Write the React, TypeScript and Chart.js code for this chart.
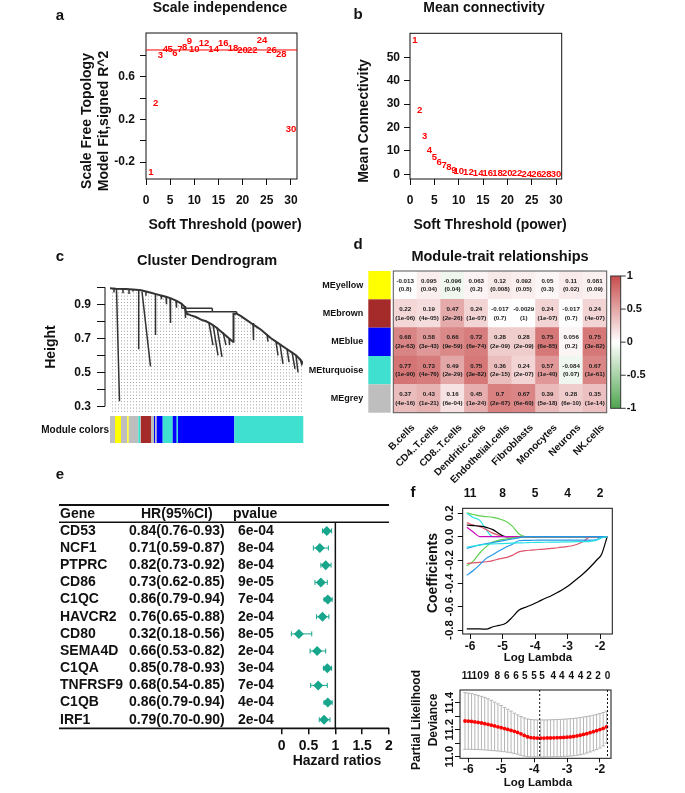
import React, { useEffect, useRef } from 'react';
import { Chart, registerables } from 'chart.js';

Chart.register(...registerables);

const PAGE_W = 685;
const PAGE_H = 793;
const FONT = '"Liberation Sans", Arial, Helvetica, sans-serif';
Chart.defaults.font.family = FONT;
Chart.defaults.font.weight = 'bold';
Chart.defaults.color = '#111111';

// ---------------- a / b : soft threshold ----------------
const softPowers = [1, 2, 3, 4, 5, 6, 7, 8, 9, 10, 12, 14, 16, 18, 20, 22, 24, 26, 28, 30];
const scaleFitR2 = [-0.3, 0.35, 0.8, 0.857, 0.857, 0.82, 0.86, 0.875, 0.93, 0.857, 0.91, 0.857, 0.916, 0.866, 0.85, 0.85, 0.94, 0.845, 0.81, 0.11];
const meanConnectivity = [57.1, 27.5, 16.2, 10.1, 7.1, 5.0, 3.7, 2.8, 1.8, 1.4, 0.85, 0.6, 0.45, 0.35, 0.28, 0.22, 0.18, 0.15, 0.12, 0.1];
const r2Cutoff = 0.85;
const powerTicks = [0, 5, 10, 15, 20, 25, 30];
const r2TickValues = [-0.2, 0, 0.2, 0.4, 0.6, 0.8];
const r2TickLabels = ['-0.2', '', '0.2', '', '0.6', ''];
const connTickValues = [0, 10, 20, 30, 40, 50];

// ---------------- c : cluster dendrogram ----------------
// x in leaf-order units, y = merge height
const dendroProfileU = [-1, 5, 15, 25, 30, 35, 40, 45, 50, 55, 60, 65, 70, 73, 75.7, 80, 85, 90, 95, 100, 105, 110, 115, 119, 122, 122.5, 125.7, 130, 135, 140, 145, 150, 155, 160, 165, 170, 175, 180, 185, 190, 192];
const dendroProfileH = [0.994, 0.992, 0.99, 0.986, 0.982, 0.975, 0.968, 0.96, 0.952, 0.944, 0.935, 0.922, 0.905, 0.89, 0.845, 0.835, 0.825, 0.81, 0.8, 0.785, 0.765, 0.74, 0.715, 0.695, 0.68, 0.845, 0.845, 0.83, 0.81, 0.79, 0.77, 0.75, 0.725, 0.7, 0.68, 0.66, 0.64, 0.62, 0.6, 0.57, 0.55];
// branches: [uTop, hTop, uBottom, hBottom]
const dendroBranches = [
  [70.7, 0.905, 70.7, 0.876], [70.7, 0.876, 101.3, 0.876], [101.3, 0.876, 101.3, 0.856],
  [75.7, 0.856, 125.7, 0.856], [75.7, 0.856, 75.7, 0.845], [125.7, 0.856, 125.7, 0.845],
  [5.5, 0.99, 8.5, 0.33], [27.7, 0.985, 27.7, 0.635], [31, 0.975, 39.5, 0.535],
  [44.5, 0.962, 44.5, 0.72], [59, 0.935, 59.5, 0.79], [74, 0.89, 74.5, 0.82],
  [98, 0.79, 102, 0.66], [102, 0.78, 107, 0.6], [106, 0.765, 111, 0.59], [112, 0.735, 115, 0.66], [118, 0.7, 118.5, 0.66],
  [142, 0.79, 142.5, 0.69], [156, 0.725, 157, 0.68], [165, 0.68, 167, 0.6], [169, 0.665, 172, 0.55],
  [176, 0.64, 178, 0.56], [181, 0.62, 184, 0.52], [185, 0.6, 187, 0.5], [189, 0.58, 191, 0.54],
  [3, 0.993, 3, 0.97], [12, 0.99, 12, 0.965], [18, 0.989, 18, 0.96], [22, 0.987, 22, 0.975],
  [35, 0.975, 35, 0.95], [50, 0.952, 50.5, 0.93], [55, 0.944, 55.5, 0.9], [65, 0.922, 65.5, 0.88],
];
const dendroHeightTicks = [0.3, 0.4, 0.5, 0.6, 0.7, 0.8, 0.9, 1.0];
const dendroHeightLabels = ['0.3', '', '0.5', '', '0.7', '', '0.9', ''];
const moduleBarEdges = [-1, 4, 10, 16.3, 17.7, 27.3, 29, 30, 40, 43, 44.3, 45.7, 51.7, 61.7, 65.7, 67, 123.3, 192.3];
const moduleBarColors = ['grey', 'yellow', 'grey', 'yellow', 'grey', 'turquoise', 'grey', 'brown', 'grey', 'blue', 'grey', 'blue', 'turquoise', 'blue', 'turquoise', 'blue', 'turquoise'];
const moduleColorHex: Record<string, string> = { grey: '#bebebe', yellow: '#ffff00', brown: '#a52a2a', blue: '#0000ff', turquoise: '#40e0d0' };

// ---------------- d : module-trait heatmap ----------------
const moduleNames = ['MEyellow', 'MEbrown', 'MEblue', 'MEturquoise', 'MEgrey'];
const moduleSwatches = ['yellow', 'brown', 'blue', 'turquoise', 'grey'];
const traitNames = ['B.cells', 'CD4..T.cells', 'CD8..T.cells', 'Dendritic.cells', 'Endothelial.cells', 'Fibroblasts', 'Monocytes', 'Neurons', 'NK.cells'];
const corYellow = [-0.013, 0.095, -0.096, 0.063, 0.12, 0.092, 0.05, 0.11, 0.081];
const pYellow = ['0.8', '0.04', '0.04', '0.2', '0.008', '0.05', '0.3', '0.02', '0.09'];
const corBrown = [0.22, 0.19, 0.47, 0.24, -0.017, -0.0029, 0.24, -0.017, 0.24];
const pBrown = ['1e-06', '4e-05', '2e-26', '1e-07', '0.7', '1', '1e-07', '0.7', '4e-07'];
const corBlue = [0.68, 0.58, 0.66, 0.72, 0.28, 0.28, 0.75, 0.056, 0.75];
const pBlue = ['2e-63', '3e-43', '9e-59', '6e-74', '2e-09', '2e-09', '6e-85', '0.2', '3e-82'];
const corTurquoise = [0.77, 0.73, 0.49, 0.75, 0.36, 0.24, 0.57, -0.084, 0.67];
const pTurquoise = ['1e-90', '4e-76', '2e-29', '3e-82', '2e-15', '2e-07', '1e-40', '0.07', '1e-61'];
const corGrey = [0.37, 0.43, 0.16, 0.45, 0.7, 0.67, 0.39, 0.28, 0.35];
const pGrey = ['4e-16', '1e-21', '6e-04', '1e-24', '2e-67', '6e-60', '5e-18', '6e-10', '1e-14'];
const heatCor = [corYellow, corBrown, corBlue, corTurquoise, corGrey];
const heatP = [pYellow, pBrown, pBlue, pTurquoise, pGrey];
const colorbarTicks = [1, 0.5, 0, -0.5, -1];

// ---------------- e : forest plot ----------------
const genes = ['CD53', 'NCF1', 'PTPRC', 'CD86', 'C1QC', 'HAVCR2', 'CD80', 'SEMA4D', 'C1QA', 'TNFRSF9', 'C1QB', 'IRF1'];
const hazardRatio = [0.84, 0.71, 0.82, 0.73, 0.86, 0.76, 0.32, 0.66, 0.85, 0.68, 0.86, 0.79];
const hrLower = [0.76, 0.59, 0.73, 0.62, 0.79, 0.65, 0.18, 0.53, 0.78, 0.54, 0.79, 0.7];
const hrUpper = [0.93, 0.87, 0.92, 0.85, 0.94, 0.88, 0.56, 0.82, 0.93, 0.85, 0.94, 0.9];
const hrPvalue = ['6e-04', '8e-04', '8e-04', '9e-05', '7e-04', '2e-04', '8e-05', '2e-04', '3e-04', '7e-04', '4e-04', '2e-04'];
const hrTicks = [0, 0.5, 1, 1.5, 2];

// ---------------- f : LASSO ----------------
const lassoLogLambda = [-6.1, -5.9, -5.7, -5.5, -5.3, -5.1, -4.9, -4.7, -4.5, -4.3, -4.1, -3.9, -3.7, -3.5, -3.3, -3.1, -2.9, -2.7, -2.5, -2.3, -2.1, -1.95, -1.78];
const coefBlackMain = [-0.79, -0.79, -0.79, -0.793, -0.772, -0.76, -0.742, -0.69, -0.63, -0.606, -0.583, -0.557, -0.53, -0.506, -0.477, -0.445, -0.405, -0.36, -0.314, -0.26, -0.2, -0.15, 0];
const coefGreenA = [0.205, 0.19, 0.178, 0.172, 0.165, 0.153, 0.132, 0.09, 0.025, 0, 0, 0, 0, 0, 0, 0, 0, 0, 0, 0, 0, 0, 0];
const coefCyanA = [0.2, 0.165, 0.14, 0.06, 0, 0, 0, 0, 0, 0, 0, 0, 0, 0, 0, 0, 0, 0, 0, 0, 0, 0, 0];
const coefRedA = [0.12, 0.1, 0.085, 0.06, 0.03, 0.01, 0, 0, 0, 0, 0, 0, 0, 0, 0, 0, 0, 0, 0, 0, 0, 0, 0];
const coefBlackB = [0.1, 0.095, 0.09, 0.08, 0.06, 0.025, 0, 0, 0, 0, 0, 0, 0, 0, 0, 0, 0, 0, 0, 0, 0, 0, 0];
const coefMagenta = [0.08, 0.04, 0, 0, 0, 0, 0, 0, 0, 0, 0, 0, 0, 0, 0, 0, 0, 0, 0, 0, 0, 0, 0];
const coefCyanB = [-0.09, -0.08, -0.072, -0.065, -0.062, -0.06, -0.058, -0.056, -0.054, -0.052, -0.05, -0.049, -0.048, -0.047, -0.046, -0.045, -0.044, -0.043, -0.042, -0.04, -0.03, -0.01, 0];
const coefBlueA = [-0.1, -0.085, -0.07, -0.06, -0.05, -0.04, -0.03, -0.02, -0.01, 0, 0, 0, 0, 0, 0, 0, 0, 0, 0, 0, 0, 0, 0];
const coefBlueB = [-0.33, -0.29, -0.24, -0.186, -0.155, -0.12, -0.09, -0.065, -0.035, -0.032, -0.031, -0.03, -0.03, -0.03, -0.03, -0.03, -0.03, -0.03, -0.03, -0.03, -0.025, 0, 0];
const coefGreenB = [-0.25, -0.21, -0.14, -0.085, -0.045, -0.03, -0.02, -0.012, -0.005, 0, 0, 0, 0, 0, 0, 0, 0, 0, 0, 0, 0, 0, 0];
const coefRedB = [-0.23, -0.225, -0.22, -0.215, -0.205, -0.19, -0.18, -0.16, -0.13, -0.12, -0.115, -0.11, -0.107, -0.1, -0.095, -0.087, -0.08, -0.065, -0.04, 0, 0, 0, 0];
const lassoXTicks = [-6, -5, -4, -3, -2];
const lassoTopDf = ['11', '8', '5', '4', '2'];
const lassoYTicks = [-0.8, -0.6, -0.4, -0.2, 0, 0.2];
const lassoYLabels = ['-0.8', '-0.6', '-0.4', '-0.2', '0.0', '0.2'];

const cvLogLambda = [-6.1, -6.0, -5.9, -5.8, -5.7, -5.6, -5.5, -5.4, -5.3, -5.2, -5.1, -5.0, -4.9, -4.8, -4.7, -4.6, -4.5, -4.4, -4.3, -4.2, -4.1, -4.0, -3.9, -3.8, -3.7, -3.6, -3.5, -3.4, -3.3, -3.2, -3.1, -3.0, -2.9, -2.8, -2.7, -2.6, -2.5, -2.4, -2.3, -2.2, -2.1, -2.0, -1.9, -1.8];
const cvMean = [11.265, 11.264, 11.262, 11.258, 11.254, 11.25, 11.245, 11.24, 11.234, 11.228, 11.222, 11.215, 11.209, 11.202, 11.195, 11.188, 11.18, 11.17, 11.158, 11.148, 11.142, 11.139, 11.138, 11.138, 11.138, 11.139, 11.139, 11.14, 11.141, 11.142, 11.143, 11.145, 11.147, 11.15, 11.154, 11.159, 11.165, 11.171, 11.178, 11.186, 11.193, 11.201, 11.21, 11.222];
const cvUpper = [11.475, 11.472, 11.468, 11.462, 11.455, 11.448, 11.44, 11.43, 11.418, 11.405, 11.392, 11.38, 11.366, 11.352, 11.338, 11.323, 11.31, 11.298, 11.288, 11.28, 11.276, 11.274, 11.273, 11.273, 11.273, 11.273, 11.274, 11.275, 11.276, 11.277, 11.278, 11.28, 11.282, 11.284, 11.287, 11.29, 11.294, 11.298, 11.303, 11.308, 11.314, 11.32, 11.328, 11.338];
const cvLower = [11.055, 11.055, 11.054, 11.054, 11.053, 11.052, 11.05, 11.048, 11.046, 11.044, 11.042, 11.04, 11.037, 11.033, 11.029, 11.024, 11.018, 11.01, 11.004, 11.0, 10.999, 10.999, 10.998, 10.998, 10.998, 10.999, 10.999, 11.0, 11.0, 11.001, 11.002, 11.003, 11.005, 11.007, 11.01, 11.014, 11.02, 11.027, 11.035, 11.044, 11.053, 11.064, 11.08, 11.1];
const cvTopX = [-6.04, -5.73, -5.45, -5.12, -4.83, -4.55, -4.28, -4.0, -3.76, -3.42, -3.16, -2.87, -2.59, -2.33, -2.06, -1.77];
const cvTopDf = ['11', '10', '9', '8', '6', '6', '5', '5', '5', '4', '4', '4', '4', '2', '2', '0'];
const cvLambdaMin = -3.83;
const cvLambda1se = -1.77;
const cvYTicks = [11.0, 11.1, 11.2, 11.3, 11.4];
const cvYLabels = ['11.0', '', '11.2', '', '11.4'];

// ---------------- helpers ----------------
type Txt = { t: string; x: number; y: number; size: number; align?: CanvasTextAlign; rot?: number; color?: string; weight?: string };

function drawTexts(ctx: CanvasRenderingContext2D, items: Txt[]) {
  for (const it of items) {
    ctx.save();
    ctx.font = `${it.weight ?? 'bold'} ${it.size}px ${FONT}`;
    ctx.fillStyle = it.color ?? '#111111';
    ctx.textAlign = it.align ?? 'center';
    ctx.textBaseline = 'middle';
    ctx.translate(it.x, it.y);
    if (it.rot) ctx.rotate(it.rot);
    ctx.fillText(it.t, 0, 0);
    ctx.restore();
  }
}

function seg(ctx: CanvasRenderingContext2D, x1: number, y1: number, x2: number, y2: number, color = '#111111', w = 1, dash: number[] = []) {
  ctx.save();
  ctx.strokeStyle = color;
  ctx.lineWidth = w;
  ctx.setLineDash(dash);
  ctx.beginPath();
  ctx.moveTo(x1, y1);
  ctx.lineTo(x2, y2);
  ctx.stroke();
  ctx.restore();
}

function box(ctx: CanvasRenderingContext2D, ca: any, color = '#111111', w = 1) {
  ctx.save();
  ctx.strokeStyle = color;
  ctx.lineWidth = w;
  ctx.strokeRect(ca.left, ca.top, ca.right - ca.left, ca.bottom - ca.top);
  ctx.restore();
}

const zeroPad = (s: any) => { s.paddingLeft = 0; s.paddingRight = 0; s.paddingTop = 0; s.paddingBottom = 0; };
const fixW = (w: number) => (s: any) => { s.width = w; zeroPad(s); };
const fixH = (h: number) => (s: any) => { s.height = h; zeroPad(s); };
const setTicks = (vals: number[]) => (s: any) => { s.ticks = vals.map((v) => ({ value: v })); };
const tickGrid = (len: number) => ({ display: true, drawOnChartArea: false, drawTicks: true, tickLength: len, color: '#111111', lineWidth: 1 });
const noGrid = { display: false, drawTicks: false };
const bf = (size: number) => ({ size, weight: 'bold' as const, family: FONT });

const baseOpts = () => ({
  responsive: false,
  maintainAspectRatio: false,
  animation: false,
  devicePixelRatio: 1,
  events: [] as string[],
  plugins: { legend: { display: false }, tooltip: { enabled: false }, title: { display: false } },
});

function corColor(v: number) {
  const t = Math.max(-1, Math.min(1, v));
  if (t >= 0) {
    const r = Math.round(255 - t * 55), g = Math.round(255 - t * 180);
    return `rgb(${r},${g},${g})`;
  }
  const a = -t;
  const r = Math.round(255 - a * 175), g = Math.round(255 - a * 90);
  return `rgb(${r},${g},${r})`;
}

// ---------------- chart configs ----------------
function cfgA(): any {
  return {
    type: 'scatter',
    data: { datasets: [{ data: softPowers.map((p, i) => ({ x: p, y: scaleFitR2[i] })), pointRadius: 0 }] },
    options: {
      ...baseOpts(),
      layout: { padding: { left: 0, top: 33, right: PAGE_W - 297, bottom: 0 } },
      scales: {
        x: {
          type: 'linear', min: 0, max: 31.26, afterBuildTicks: setTicks(powerTicks), afterFit: fixH(PAGE_H - 179),
          ticks: { font: bf(12), padding: 8, maxRotation: 0, autoSkip: false, callback: (v: number) => String(v) },
          grid: tickGrid(6), border: { display: false },
        },
        y: {
          type: 'linear', min: -0.358, max: 1.009, afterBuildTicks: setTicks(r2TickValues), afterFit: fixW(146),
          ticks: { font: bf(12), padding: 5, autoSkip: false, callback: (_v: number, i: number) => r2TickLabels[i] },
          grid: tickGrid(6), border: { display: false },
        },
      },
    },
    plugins: [{
      id: 'panelA',
      afterDatasetsDraw(chart: any) {
        const { ctx, chartArea: ca, scales: { x, y } } = chart;
        box(ctx, ca);
        const yy = y.getPixelForValue(r2Cutoff);
        seg(ctx, ca.left, yy, ca.right, yy, '#ff0000', 1);
        ctx.save();
        ctx.font = `bold 9.5px ${FONT}`;
        ctx.fillStyle = '#ff0000';
        ctx.textAlign = 'center';
        ctx.textBaseline = 'middle';
        softPowers.forEach((p, i) => ctx.fillText(String(p), x.getPixelForValue(p), y.getPixelForValue(scaleFitR2[i])));
        ctx.restore();
        drawTexts(ctx, [
          { t: 'a', x: 60, y: 16, size: 15 },
          { t: 'Scale independence', x: 220, y: 8, size: 14 },
          { t: 'Soft Threshold (power)', x: 225, y: 225, size: 14 },
          { t: 'Scale Free Topology', x: 87.5, y: 121, size: 14, rot: -Math.PI / 2 },
          { t: 'Model Fit,signed R^2', x: 104, y: 121, size: 14, rot: -Math.PI / 2 },
        ]);
      },
    }],
  };
}

function cfgB(): any {
  return {
    type: 'scatter',
    data: { datasets: [{ data: softPowers.map((p, i) => ({ x: p, y: meanConnectivity[i] })), pointRadius: 0 }] },
    options: {
      ...baseOpts(),
      layout: { padding: { left: 0, top: 33.3, right: PAGE_W - 561.7, bottom: 0 } },
      scales: {
        x: {
          type: 'linear', min: 0, max: 31.17, afterBuildTicks: setTicks(powerTicks), afterFit: fixH(PAGE_H - 179),
          ticks: { font: bf(12), padding: 8, maxRotation: 0, autoSkip: false, callback: (v: number) => String(v) },
          grid: tickGrid(6), border: { display: false },
        },
        y: {
          type: 'linear', min: -2, max: 60.26, afterBuildTicks: setTicks(connTickValues), afterFit: fixW(410),
          ticks: { font: bf(12), padding: 4, autoSkip: false, callback: (v: number) => String(v) },
          grid: tickGrid(6), border: { display: false },
        },
      },
    },
    plugins: [{
      id: 'panelB',
      afterDatasetsDraw(chart: any) {
        const { ctx, chartArea: ca, scales: { x, y } } = chart;
        box(ctx, ca);
        ctx.save();
        ctx.font = `bold 9.5px ${FONT}`;
        ctx.fillStyle = '#ff0000';
        ctx.textAlign = 'center';
        ctx.textBaseline = 'middle';
        softPowers.forEach((p, i) => ctx.fillText(String(p), x.getPixelForValue(p), y.getPixelForValue(meanConnectivity[i])));
        ctx.restore();
        drawTexts(ctx, [
          { t: 'b', x: 358, y: 15, size: 15 },
          { t: 'Mean connectivity', x: 484, y: 8, size: 14 },
          { t: 'Soft Threshold (power)', x: 490, y: 225, size: 14 },
          { t: 'Mean Connectivity', x: 364, y: 121, size: 14, rot: -Math.PI / 2 },
        ]);
      },
    }],
  };
}

function cfgC(): any {
  const branchPts: any[] = [];
  dendroBranches.forEach(([u1, h1, u2, h2]) => {
    branchPts.push({ x: u1, y: h1 }, { x: u2, y: h2 }, { x: u2, y: null });
  });
  return {
    type: 'line',
    data: {
      datasets: [
        { data: branchPts, borderColor: '#333333', borderWidth: 1.5, pointRadius: 0, spanGaps: false, fill: false, tension: 0 },
        {
          data: dendroProfileU.map((u, i) => ({ x: u, y: dendroProfileH[i] })),
          borderColor: '#333333', borderWidth: 2, pointRadius: 0, fill: 'end', backgroundColor: '#ffffff', tension: 0,
        },
      ],
    },
    options: {
      ...baseOpts(),
      layout: { padding: { left: 0, top: 286, right: PAGE_W - 303, bottom: 0 } },
      scales: {
        x: {
          type: 'linear', min: -6, max: 192,
          afterBuildTicks: (s: any) => { const t: any[] = []; for (let u = 1; u <= 190; u += 3) t.push({ value: u }); s.ticks = t; },
          afterFit: fixH(PAGE_H - 414),
          ticks: { display: false, autoSkip: false },
          grid: { display: true, drawOnChartArea: true, drawTicks: false, color: '#9c9c9c', lineWidth: 0.9 },
          border: { display: false, dash: [1, 2.2] },
        },
        y: {
          type: 'linear', min: 0.2547, max: 1.0076, afterBuildTicks: setTicks(dendroHeightTicks), afterFit: fixW(105),
          ticks: { font: bf(12), padding: 6, autoSkip: false, callback: (_v: number, i: number) => dendroHeightLabels[i] },
          grid: tickGrid(8), border: { display: false },
        },
      },
    },
    plugins: [{
      id: 'panelC',
      afterDraw(chart: any) {
        const { ctx, chartArea: ca, scales: { x, y } } = chart;
        seg(ctx, ca.left, y.getPixelForValue(1.0), ca.left, y.getPixelForValue(0.3), '#111111', 1);
        ctx.save();
        for (let i = 0; i < moduleBarColors.length; i++) {
          const x1 = x.getPixelForValue(moduleBarEdges[i]);
          const x2 = x.getPixelForValue(moduleBarEdges[i + 1]);
          ctx.fillStyle = moduleColorHex[moduleBarColors[i]];
          ctx.fillRect(x1, 416, x2 - x1, 27);
        }
        ctx.restore();
        drawTexts(ctx, [
          { t: 'c', x: 60, y: 257, size: 15 },
          { t: 'Cluster Dendrogram', x: 207, y: 261, size: 14.5 },
          { t: 'Height', x: 51, y: 347, size: 14, rot: -Math.PI / 2 },
          { t: 'Module colors', x: 109, y: 430, size: 10, align: 'right' },
        ]);
      },
    }],
  };
}

function cfgD(): any {
  const rowsBottomUp = [4, 3, 2, 1, 0];
  return {
    type: 'bar',
    data: {
      labels: traitNames,
      datasets: rowsBottomUp.map((r) => ({
        label: moduleNames[r],
        data: heatCor[r].map(() => 1),
        backgroundColor: heatCor[r].map(corColor),
        borderWidth: 0,
        barPercentage: 1,
        categoryPercentage: 1,
      })),
    },
    options: {
      ...baseOpts(),
      layout: { padding: { left: 0, top: 271, right: PAGE_W - 606.7, bottom: PAGE_H - 412.7 } },
      scales: {
        x: { type: 'category', stacked: true, display: false, grid: noGrid },
        y: {
          type: 'linear', stacked: true, min: 0, max: 5, afterBuildTicks: setTicks([0.5, 1.5, 2.5, 3.5, 4.5]), afterFit: fixW(393.3),
          ticks: { font: bf(9), padding: 30, autoSkip: false, callback: (_v: number, i: number) => moduleNames[moduleNames.length - 1 - i] },
          grid: noGrid, border: { display: false },
        },
      },
    },
    plugins: [{
      id: 'panelD',
      afterDatasetsDraw(chart: any) {
        const { ctx, chartArea: ca, scales: { x, y } } = chart;
        ctx.save();
        ctx.font = `bold 6.2px ${FONT}`;
        ctx.fillStyle = '#1a1a1a';
        ctx.textAlign = 'center';
        ctx.textBaseline = 'middle';
        rowsBottomUp.forEach((r, di) => {
          const meta = chart.getDatasetMeta(di);
          meta.data.forEach((el: any, j: number) => {
            const cy = (el.y + el.base) / 2;
            ctx.fillText(String(heatCor[r][j]), el.x, cy - 4.3);
            ctx.fillText(`(${heatP[r][j]})`, el.x, cy + 4.3);
          });
        });
        ctx.restore();
        box(ctx, ca, '#555555', 1);
        ctx.save();
        moduleSwatches.forEach((c, r) => {
          const yTop = y.getPixelForValue(5 - r);
          const yBot = y.getPixelForValue(4 - r);
          ctx.fillStyle = moduleColorHex[c];
          ctx.fillRect(368.3, yTop, 22.4, yBot - yTop);
        });
        ctx.restore();
        ctx.save();
        ctx.font = `bold 10px ${FONT}`;
        ctx.fillStyle = '#111111';
        ctx.textAlign = 'right';
        ctx.textBaseline = 'middle';
        traitNames.forEach((t, j) => {
          ctx.save();
          ctx.translate(x.getPixelForValue(j) + 8, 426);
          ctx.rotate(-Math.PI / 4);
          ctx.fillText(t, 0, 0);
          ctx.restore();
        });
        ctx.restore();
        const cbL = 610.7, cbW = 10, cbT = 276, cbB = 408.3;
        const cbY = (v: number) => cbT + (1 - v) / 2 * (cbB - cbT);
        ctx.save();
        const g = ctx.createLinearGradient(0, cbT, 0, cbB);
        g.addColorStop(0, corColor(1));
        g.addColorStop(0.5, corColor(0));
        g.addColorStop(1, corColor(-1));
        ctx.fillStyle = g;
        ctx.fillRect(cbL, cbT, cbW, cbB - cbT);
        ctx.restore();
        box(ctx, { left: cbL, top: cbT, right: cbL + cbW, bottom: cbB }, '#333333', 1);
        colorbarTicks.forEach((v) => {
          const yy = cbY(v);
          seg(ctx, cbL + cbW, yy, cbL + cbW + 5, yy, '#333333', 1);
        });
        drawTexts(ctx, colorbarTicks.map((v) => ({ t: String(v), x: cbL + cbW + 6, y: cbY(v), size: 11, align: 'left' as CanvasTextAlign })));
        drawTexts(ctx, [
          { t: 'd', x: 358, y: 245, size: 15 },
          { t: 'Module-trait relationships', x: 500, y: 257, size: 14.5 },
        ]);
      },
    }],
  };
}

function cfgE(): any {
  const teal = '#17a58c';
  return {
    type: 'scatter',
    data: {
      datasets: [{
        data: hazardRatio.map((h, i) => ({ x: h, y: i })),
        pointStyle: 'rectRot', pointRadius: 5, backgroundColor: teal, borderColor: teal, borderWidth: 0,
      }],
    },
    options: {
      ...baseOpts(),
      layout: { padding: { left: 281.7, top: 522.3, right: PAGE_W - 389, bottom: 0 } },
      scales: {
        x: {
          type: 'linear', min: 0, max: 2, afterBuildTicks: setTicks(hrTicks), afterFit: fixH(PAGE_H - 728.3),
          ticks: { font: bf(14), padding: 3, maxRotation: 0, autoSkip: false, callback: (v: number) => String(v) },
          grid: { ...tickGrid(6), lineWidth: 1.5 }, border: { display: false },
        },
        y: { type: 'linear', min: -0.5, max: 11.5, reverse: true, display: false },
      },
    },
    plugins: [{
      id: 'panelE',
      beforeDatasetsDraw(chart: any) {
        const { ctx, chartArea: ca, scales: { x, y } } = chart;
        const x1 = x.getPixelForValue(1);
        seg(ctx, x1, ca.top, x1, ca.bottom, '#111111', 1.5);
        hazardRatio.forEach((_h, i) => {
          const yy = y.getPixelForValue(i);
          const a = x.getPixelForValue(hrLower[i]);
          const b = x.getPixelForValue(hrUpper[i]);
          seg(ctx, a, yy, b, yy, teal, 1);
          seg(ctx, a, yy - 2.5, a, yy + 2.5, teal, 1);
          seg(ctx, b, yy - 2.5, b, yy + 2.5, teal, 1);
        });
      },
      afterDatasetsDraw(chart: any) {
        const { ctx, chartArea: ca, scales: { y } } = chart;
        const L = 59;
        seg(ctx, L, 505, ca.right, 505, '#111111', 1.8);
        seg(ctx, L, ca.top, ca.right, ca.top, '#111111', 1.5);
        seg(ctx, L, ca.bottom, ca.right, ca.bottom, '#111111', 1.8);
        const items: Txt[] = [
          { t: 'Gene', x: 60, y: 514, size: 14, align: 'left' },
          { t: 'HR(95%CI)', x: 141, y: 514, size: 14, align: 'left' },
          { t: 'pvalue', x: 233, y: 514, size: 14, align: 'left' },
          { t: 'e', x: 60, y: 475, size: 15 },
          { t: 'Hazard ratios', x: 337, y: 761, size: 14 },
        ];
        genes.forEach((g, i) => {
          const yy = y.getPixelForValue(i);
          items.push({ t: g, x: 60, y: yy, size: 14, align: 'left' });
          items.push({ t: `${hazardRatio[i].toFixed(2)}(${hrLower[i].toFixed(2)}-${hrUpper[i].toFixed(2)})`, x: 129, y: yy, size: 14, align: 'left' });
          items.push({ t: hrPvalue[i], x: 238, y: yy, size: 14, align: 'left' });
        });
        drawTexts(ctx, items);
      },
    }],
  };
}

function cfgF1(): any {
  const series = [
    { c: coefCyanB, col: '#28E2E5' },
    { c: coefBlueB, col: '#2297E6' },
    { c: coefBlueA, col: '#2297E6' },
    { c: coefRedB, col: '#DF536B' },
    { c: coefGreenB, col: '#61D04F' },
    { c: coefMagenta, col: '#CD0BBC' },
    { c: coefBlackB, col: '#000000' },
    { c: coefRedA, col: '#DF536B' },
    { c: coefCyanA, col: '#28E2E5' },
    { c: coefGreenA, col: '#61D04F' },
    { c: coefBlackMain, col: '#000000' },
  ];
  return {
    type: 'line',
    data: {
      datasets: series.map((s) => ({
        data: lassoLogLambda.map((l, i) => ({ x: l, y: s.c[i] })),
        borderColor: s.col, borderWidth: 1.2, pointRadius: 0, fill: false, cubicInterpolationMode: 'monotone',
      })),
    },
    options: {
      ...baseOpts(),
      layout: { padding: { left: 0, top: 0, right: PAGE_W - 612.3, bottom: 0 } },
      scales: {
        x: {
          type: 'linear', position: 'bottom', min: -6.225, max: -1.622, afterBuildTicks: setTicks(lassoXTicks), afterFit: fixH(PAGE_H - 634),
          ticks: { font: bf(12), padding: 0, maxRotation: 0, autoSkip: false, callback: (v: number) => String(v) },
          grid: tickGrid(5), border: { display: false },
        },
        x2: {
          type: 'linear', position: 'top', min: -6.225, max: -1.622, afterBuildTicks: setTicks(lassoXTicks), afterFit: fixH(508.3),
          ticks: { font: bf(12), padding: 7.4, maxRotation: 0, autoSkip: false, callback: (_v: number, i: number) => lassoTopDf[i] },
          grid: noGrid, border: { display: false },
        },
        y: {
          type: 'linear', min: -0.834, max: 0.243, afterBuildTicks: setTicks(lassoYTicks), afterFit: fixW(462.7),
          ticks: { display: false, autoSkip: false },
          grid: tickGrid(5), border: { display: false },
        },
      },
    },
    plugins: [{
      id: 'panelF1',
      afterDraw(chart: any) {
        const { ctx, chartArea: ca, scales: { y } } = chart;
        box(ctx, ca);
        drawTexts(ctx, lassoYTicks.map((v, i) => ({ t: lassoYLabels[i], x: 450, y: y.getPixelForValue(v), size: 11.5, rot: -Math.PI / 2 })));
        drawTexts(ctx, [
          { t: 'f', x: 413, y: 493, size: 15 },
          { t: 'Coefficients', x: 433.5, y: 573, size: 14, rot: -Math.PI / 2 },
          { t: 'Log Lambda', x: 538, y: 657.5, size: 11.5 },
        ]);
      },
    }],
  };
}

function cfgF2(): any {
  return {
    type: 'scatter',
    data: {
      datasets: [{
        data: cvLogLambda.map((l, i) => ({ x: l, y: cvMean[i] })),
        pointRadius: 1.9, backgroundColor: '#ff0000', borderWidth: 0,
      }],
    },
    options: {
      ...baseOpts(),
      layout: { padding: { left: 0, top: 0, right: PAGE_W - 611, bottom: 0 } },
      scales: {
        x: {
          type: 'linear', position: 'bottom', min: -6.252, max: -1.663, afterBuildTicks: setTicks(lassoXTicks), afterFit: fixH(PAGE_H - 758.3),
          ticks: { font: bf(12), padding: 0, maxRotation: 0, autoSkip: false, callback: (v: number) => String(v) },
          grid: tickGrid(4), border: { display: false },
        },
        x2: {
          type: 'linear', position: 'top', min: -6.252, max: -1.663, afterBuildTicks: setTicks(cvTopX), afterFit: fixH(690),
          ticks: { font: bf(10), padding: 7.3, maxRotation: 0, autoSkip: false, callback: (_v: number, i: number) => cvTopDf[i] },
          grid: noGrid, border: { display: false },
        },
        y: {
          type: 'linear', min: 10.988, max: 11.495, afterBuildTicks: setTicks(cvYTicks), afterFit: fixW(460),
          ticks: { display: false, autoSkip: false },
          grid: tickGrid(5), border: { display: false },
        },
      },
    },
    plugins: [{
      id: 'panelF2',
      beforeDatasetsDraw(chart: any) {
        const { ctx, scales: { x, y } } = chart;
        cvLogLambda.forEach((l, i) => {
          const px = x.getPixelForValue(l);
          const y1 = y.getPixelForValue(cvUpper[i]);
          const y2 = y.getPixelForValue(cvLower[i]);
          seg(ctx, px, y1, px, y2, '#b5b5b5', 1);
          seg(ctx, px - 1.8, y1, px + 1.8, y1, '#b5b5b5', 1);
          seg(ctx, px - 1.8, y2, px + 1.8, y2, '#b5b5b5', 1);
        });
      },
      afterDraw(chart: any) {
        const { ctx, chartArea: ca, scales: { x, y } } = chart;
        [cvLambdaMin, cvLambda1se].forEach((l) => {
          const px = x.getPixelForValue(l);
          seg(ctx, px, ca.top, px, ca.bottom, '#111111', 1, [2, 2]);
        });
        box(ctx, ca);
        drawTexts(ctx, cvYTicks.map((v, i) => ({ t: cvYLabels[i], x: 450, y: y.getPixelForValue(v), size: 11.5, rot: -Math.PI / 2 })));
        drawTexts(ctx, [
          { t: 'Partial Likelihood', x: 417, y: 720, size: 12, rot: -Math.PI / 2 },
          { t: 'Deviance', x: 433.3, y: 720, size: 12, rot: -Math.PI / 2 },
          { t: 'Log Lambda', x: 538, y: 782.7, size: 11.5 },
        ]);
      },
    }],
  };
}

const chartFactories = [cfgA, cfgB, cfgC, cfgD, cfgE, cfgF1, cfgF2];

export default function App() {
  const refs = [
    useRef<HTMLCanvasElement>(null), useRef<HTMLCanvasElement>(null), useRef<HTMLCanvasElement>(null),
    useRef<HTMLCanvasElement>(null), useRef<HTMLCanvasElement>(null), useRef<HTMLCanvasElement>(null),
    useRef<HTMLCanvasElement>(null),
  ];
  useEffect(() => {
    const charts = chartFactories.map((f, i) => new Chart(refs[i].current as HTMLCanvasElement, f()));
    return () => charts.forEach((c) => c.destroy());
  }, []);
  return (
    <div style={{ position: 'absolute', left: 0, top: 0, width: PAGE_W, height: PAGE_H, background: '#ffffff', overflow: 'hidden' }}>
      {refs.map((r, i) => (
        <canvas
          key={i}
          ref={r}
          width={PAGE_W}
          height={PAGE_H}
          style={{ position: 'absolute', left: 0, top: 0, width: PAGE_W, height: PAGE_H }}
        />
      ))}
    </div>
  );
}
